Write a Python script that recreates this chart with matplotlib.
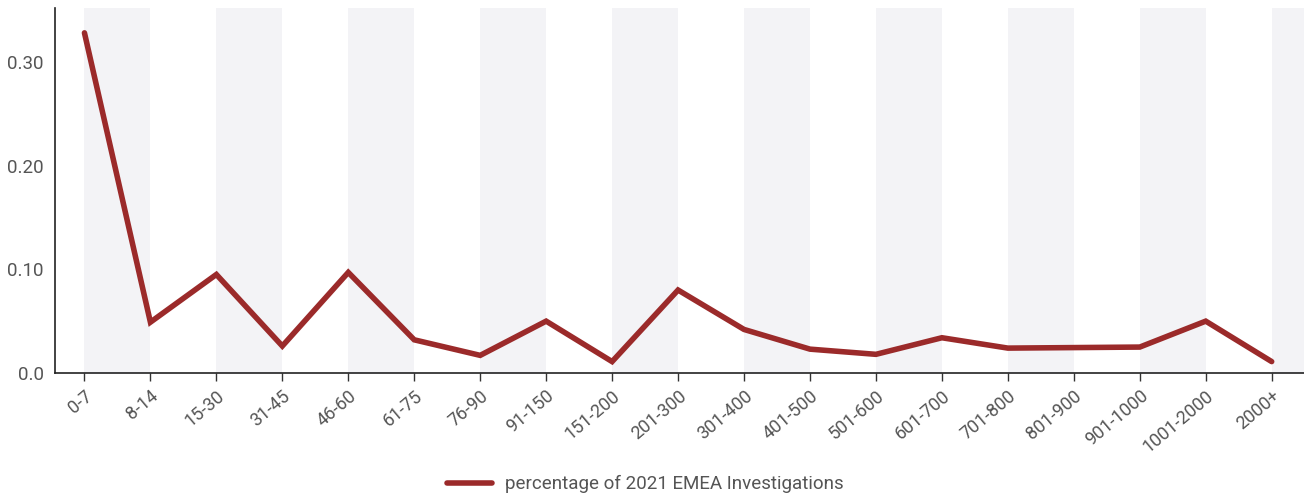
import matplotlib
matplotlib.use('Agg')
import matplotlib.pyplot as plt

categories = ['0-7', '8-14', '15-30', '31-45', '46-60', '61-75', '76-90', '91-150',
              '151-200', '201-300', '301-400', '401-500', '501-600', '601-700',
              '701-800', '801-900', '901-1000', '1001-2000', '2000+']
values = [0.328, 0.049, 0.095, 0.026, 0.097, 0.032, 0.017, 0.050, 0.011, 0.080,
          0.042, 0.023, 0.018, 0.034, 0.024, 0.0245, 0.025, 0.050, 0.011]
y_ticks = [0.0, 0.10, 0.20, 0.30]
y_tick_labels = ['0.0', '0.10', '0.20', '0.30']
series_name = 'percentage of 2021 EMEA Investigations'

plt.rcParams['font.family'] = ['Roboto', 'DejaVu Sans']
text_color = '#555555'

fig = plt.figure(figsize=(13.04, 4.97), dpi=100)
ax = fig.add_axes([0.042, 0.2495, 0.958, 0.7345])

# alternating shaded bands
for i in range(0, len(categories), 2):
    ax.axvspan(i, i + 1, color='#f3f3f6', zorder=0, lw=0)

x = list(range(len(categories)))
ax.plot(x, values, color='#9b2a2a', linewidth=4, solid_capstyle='round',
        solid_joinstyle='miter', label=series_name, zorder=3)

ax.set_xlim(-0.45, 18.49)
ax.set_ylim(0, 0.352)
ax.set_xticks(x)
ax.set_xticklabels(categories, rotation=40, ha='right', rotation_mode='anchor',
                   fontsize=13, color=text_color)
ax.set_yticks(y_ticks)
ax.set_yticklabels(y_tick_labels, fontsize=13.5, color=text_color)
ax.tick_params(axis='y', length=0, pad=8)
ax.tick_params(axis='x', length=6, width=1, color='#333333', pad=4)

for s in ['top', 'right']:
    ax.spines[s].set_visible(False)
for s in ['left', 'bottom']:
    ax.spines[s].set_color('#222222')
    ax.spines[s].set_linewidth(1.2)

leg = fig.legend(loc='center', bbox_to_anchor=(0.495, 0.026), frameon=False,
                 fontsize=13.5, handlelength=2.4, handletextpad=0.7)
for t in leg.get_texts():
    t.set_color(text_color)

fig.savefig('out.png', dpi=100)
